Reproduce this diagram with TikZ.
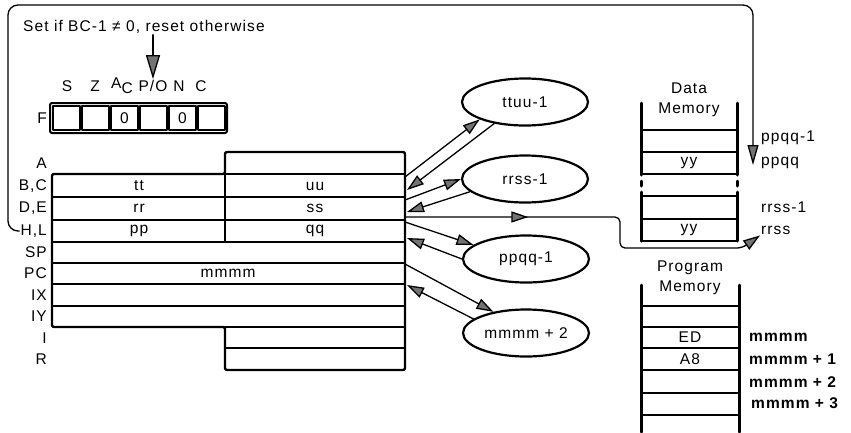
\documentclass[tikz,border=0pt]{standalone}
\usepackage{fontspec}
\setmainfont{Liberation Sans}[LetterSpace=7]
\usetikzlibrary{arrows.meta,shapes.geometric,decorations.markings}

\begin{document}
\begin{tikzpicture}[
			x=1pt, y=-1pt,
			every node/.style={font=\fontsize{15.5}{18}\selectfont, inner sep=1pt},
			line cap=round,
			line join=round,
			conn/.style={line width=1.3pt},
			tipa/.style={-{Triangle[length=17pt,width=11pt,fill=black!55]}},
			regline/.style={line width=1.6pt},
			regout/.style={line width=2.4pt, rounded corners=2pt},
			wall/.style={line width=3pt},
			oval/.style={ellipse, draw, line width=2.2pt, minimum width=126pt, minimum height=47pt, inner sep=0pt}
			]
			\useasboundingbox (0,0) rectangle (851,432);
			
			% Note and flag labels
			\node[anchor=west] (note) at (22,27) {Set if BC-1 ≠ 0, reset otherwise};
			\node (fS) at (67,86) {S};
			\node (fZ) at (95,86) {Z};
			\node (fAC) at (122,86) {A\raisebox{-5pt}{C}};
			\node (fPO) at (153,86) {P/O};
			\node (fN) at (179,86) {N};
			\node (fC) at (201,86) {C};
			\draw[conn, -{Triangle[length=24pt,width=14pt,fill=black!55]}] (fPO.north |- note.south) -- (fPO.north);
			
			% Flag register
			\node[anchor=east] (lF) at (48,118) {F};
			\draw[line width=2pt, rounded corners=2pt] (50,103) rectangle (227,133);
			\foreach \i in {0,...,5}
				\draw[line width=1.6pt] ({53+29*\i},106) rectangle ({80+29*\i},130);
			\node (f3) at (124.5,118) {0};
			\node (f5) at (182.5,118) {0};
			
			% Register labels
			\foreach \lbl/\y [count=\k] in {A/163,{B,C}/186,{D,E}/208,{H,L}/231,SP/252,PC/273,IX/295,IY/316,I/338,R/359}
				\node[anchor=east] (l\k) at (48,\y) {\lbl};
			
			% Register block
			\draw[regout] (225,152) -- (405,152) -- (405,370) -- (225,370) -- (225,327) -- (52,327) -- (52,174) -- (225,174) -- cycle;
			\draw[regline] (225,174) -- (405,174);
			\foreach \y in {197,220,242,263,284,306}
				\draw[regline] (52,\y) -- (405,\y);
			\draw[regline] (225,327) -- (405,327);
			\draw[regline] (225,348) -- (405,348);
			\draw[regline] (225,174) -- (225,242);
			\node (tt) at (139,186) {tt};
			\node (uu) at (315,186) {uu};
			\node (rr) at (139,208) {rr};
			\node (ss) at (315,208) {ss};
			\node (pp) at (139,231) {pp};
			\node (qq) at (315,231) {qq};
			\node (pc) at (228,273) {mmmm};
			
			% Points on the right edge
			\coordinate (o1) at (405,177);
			\coordinate (i1) at (407,190);
			\coordinate (o2) at (405,200);
			\coordinate (i2) at (407,212);
			\coordinate (o5) at (405,217);
			\coordinate (o3) at (405,222);
			\coordinate (i3) at (407,238);
			\coordinate (o4) at (405,264);
			\coordinate (i4) at (407,285);
			
			% Address ovals
			\node[oval] (ttuu) at (525,102) {ttuu-1};
			\node[oval] (rrss) at (525,179) {rrss-1};
			\node[oval] (ppqq) at (526,259) {ppqq-1};
			\node[oval] (mm2) at (526,333) {mmmm + 2};
			
			\draw[conn, tipa] (o1) -- (ttuu.201);
			\draw[conn, tipa] (ttuu.215) -- (i1);
			\draw[conn, tipa] (o2) -- (rrss.west);
			\draw[conn, tipa] (rrss.193) -- (i2);
			\draw[conn, tipa] (o3) -- (ppqq.165);
			\draw[conn, tipa] (ppqq.west) -- (i3);
			\draw[conn, tipa] (o4) -- (mm2.147);
			\draw[conn, tipa] (mm2.165) -- (i4);
			
			% Data memory
			\node (dmT1) at (689,88) {Data};
			\node (dmT2) at (689,110) {Memory};
			\draw[wall] (641,103) -- (641,175) (737,103) -- (737,175);
			\draw[wall] (641,181) -- (641,186) (737,181) -- (737,186);
			\draw[wall] (641,192) -- (641,241) (737,192) -- (737,241);
			\foreach \y in {130,152,174,196,219,241}
				\draw[regline] (641,\y) -- (737,\y);
			\node (yy1) at (689,163) {yy};
			\node (yy2) at (689,230) {yy};
			\node[anchor=west] (dm1) at (760,138) {ppqq-1};
			\node[anchor=west] (dm2) at (760,163) {ppqq};
			\node[anchor=west] (dm3) at (760,207) {rrss-1};
			\node[anchor=west] (dm4) at (760,230) {rrss};
			
			% Program memory
			\node (pmT1) at (690,268) {Program};
			\node (pmT2) at (690,288) {Memory};
			\draw[wall] (641,285) -- (641,432) (739,285) -- (739,432);
			\foreach \y in {306,327,348,370,393,415}
				\draw[regline] (641,\y) -- (739,\y);
			\node (ed) at (690,337) {ED};
			\node (a8) at (690,359) {A8};
			\node[anchor=west, font=\fontsize{15.5}{18}\selectfont\bfseries] (pm1) at (748,337) {mmmm};
			\node[anchor=west, font=\fontsize{15.5}{18}\selectfont\bfseries] (pm2) at (748,359) {mmmm + 1};
			\node[anchor=west, font=\fontsize{15.5}{18}\selectfont\bfseries] (pm3) at (748,382) {mmmm + 2};
			\node[anchor=west, font=\fontsize{15.5}{18}\selectfont\bfseries] (pm4) at (750,403) {mmmm + 3};
			
			% Transfer paths
			\draw[conn, tipa, rounded corners=5pt, postaction={decorate},
				decoration={markings, mark=at position 0.32 with {\arrow{Triangle[length=17pt,width=11pt,fill=black!55]}}}]
				(o5) -- (620,217) -- (620,248) -- (742,248) -- (dm4.south west);
			\coordinate (pend) at (753,165);
			\draw[conn, rounded corners=10pt, -{Triangle[length=20pt,width=11pt,fill=black!55]}] (l4.west) -| (8,5) -| (pend);
		\end{tikzpicture}
\end{document}
